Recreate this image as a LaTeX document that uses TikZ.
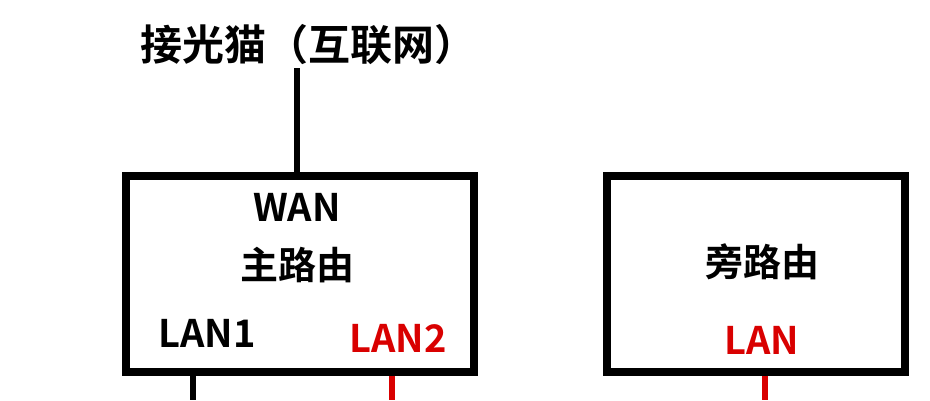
\documentclass[tikz,border=0pt]{standalone}
\usepackage{fontspec}
\setmainfont{Noto Sans CJK SC Bold}
\usepackage{tikz}
\usetikzlibrary{positioning}

\begin{document}
\begin{tikzpicture}
  [
  x=1pt,y=-1pt,
  routerbox/.style={rectangle,draw=black,line width=8pt,minimum width=348pt,minimum height=196pt,inner sep=0pt},
  sidebox/.style={rectangle,draw=black,line width=8pt,minimum width=298pt,minimum height=196pt,inner sep=0pt},
  label1/.style={font=\fontsize{38}{40}\selectfont,inner sep=0pt},
  wire/.style={line width=6pt},
  redwire/.style={line width=6pt,draw=red!85!black}
  ]
  \useasboundingbox (0,0) rectangle (930,400);

  \node (main) [routerbox] at (300,273.5) {};
  \node (side) [sidebox]   at (755.5,273.5) {};

  \node (title) [label1,font=\fontsize{42}{44}\selectfont] at (308,45) {接光猫（互联网）};
  \node (wan)  [label1] at (297,207) {WAN};
  \node (mainname) [label1] at (297,265) {主路由};
  \node (lan1) [label1] at (207,333) {LAN1};
  \node (lan2) [label1,text=red!85!black] at (398,338) {LAN2};
  \node (sidename) [label1] at (762,262) {旁路由};
  \node (lan)  [label1,text=red!85!black] at (762,340) {LAN};

  \coordinate (top) at (297,68);
  \coordinate (down1) at (193,400);
  \coordinate (down2) at (392,400);
  \coordinate (down3) at (765,400);

  \draw [wire] (top) -- (top |- main.north);
  \draw [wire] (down1 |- main.south) -- (down1);
  \draw [redwire] (down2 |- main.south) -- (down2);
  \draw [redwire] (down3 |- side.south) -- (down3);
\end{tikzpicture}
\end{document}
